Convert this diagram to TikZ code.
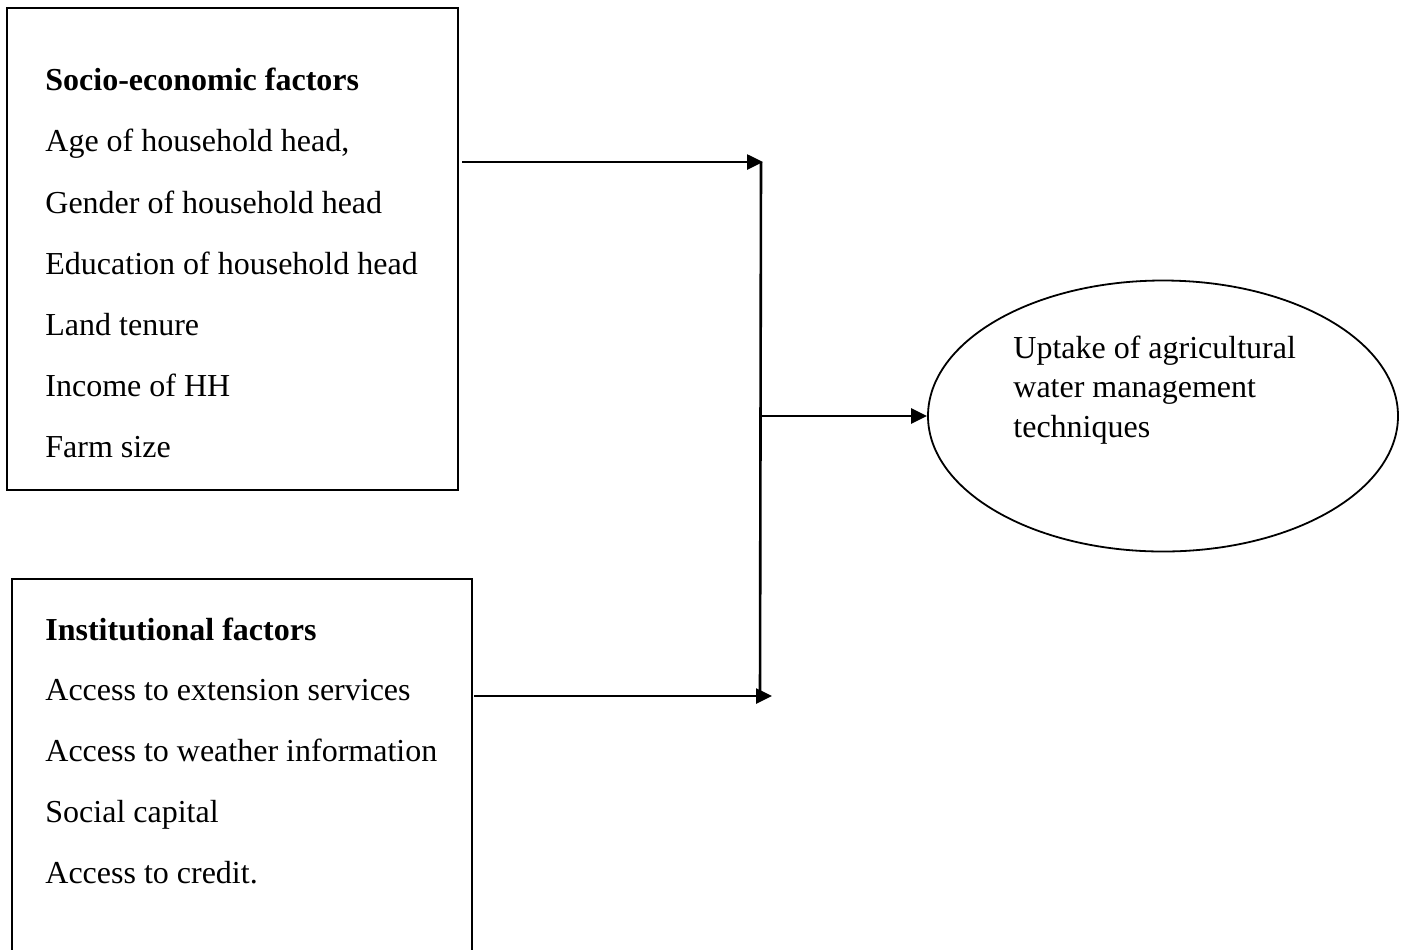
\documentclass[tikz,border=0pt]{standalone}
\usepackage{fontspec}
\setmainfont{Liberation Serif}
\usetikzlibrary{arrows.meta,shapes.geometric}
\tikzset{
  boxframe/.style={draw=black, line width=1pt, rectangle, inner sep=0pt},
  ovalframe/.style={draw=black, line width=0.9pt, ellipse, inner sep=0pt},
  txt/.style={anchor=base west, inner sep=0pt, font=\fontsize{16}{19}\selectfont},
  ttl/.style={txt, font=\fontsize{16}{19}\selectfont\bfseries},
  conn/.style={line width=1.3pt},
  arr/.style={conn, -{Triangle[length=8pt,width=7.5pt]}},
}
\begin{document}
\begin{tikzpicture}[x=0.5pt,y=-0.5pt]
\useasboundingbox (0,0) rectangle (1408,949);
\clip (0,0) rectangle (1408,949);
\fill[white] (0,0) rectangle (1408,949);
% boxes
\node[boxframe, minimum width=225.5pt, minimum height=241pt] (box1) at (232.5,249) {};
\node[boxframe, minimum width=230pt, minimum height=230pt] (box2) at (242,809) {};
\node[ovalframe, minimum width=235pt, minimum height=135.5pt] (goal) at (1163,416) {};
% box 1 text
\node[ttl] (t1) at (45,90) {Socio-economic factors};
\node[txt] (a1) at (45,151) {Age of household head,};
\node[txt] (a2) at (45,213) {Gender of household head};
\node[txt] (a3) at (45,274) {Education of household head};
\node[txt] (a4) at (45,335) {Land tenure};
\node[txt] (a5) at (45,396) {Income of HH};
\node[txt] (a6) at (45,457) {Farm size};
% box 2 text
\node[ttl] (t2) at (45,640) {Institutional factors};
\node[txt] (b1) at (45,700) {Access to extension services};
\node[txt] (b2) at (45,761) {Access to weather information};
\node[txt] (b3) at (45,822) {Social capital};
\node[txt] (b4) at (45,883) {Access to credit.};
% ellipse text
\node[txt] (g1) at (1013,358) {Uptake of agricultural};
\node[txt] (g2) at (1013,397) {water management};
\node[txt] (g3) at (1013,437) {techniques};
% connectors
\coordinate (j1) at (761,162);
\coordinate (j2) at (760,696);
\coordinate (jm) at (761,416);
\coordinate (s1) at (462,162);
\coordinate (s2) at (474,696);
\coordinate (e2) at (772,696);
\draw[arr] (s1) -- (763,162);
\draw[conn] (j1) -- (j2);
\draw[arr] (jm) -- (jm -| goal.west);
\draw[arr] (s2) -- (e2);
\end{tikzpicture}
\end{document}
